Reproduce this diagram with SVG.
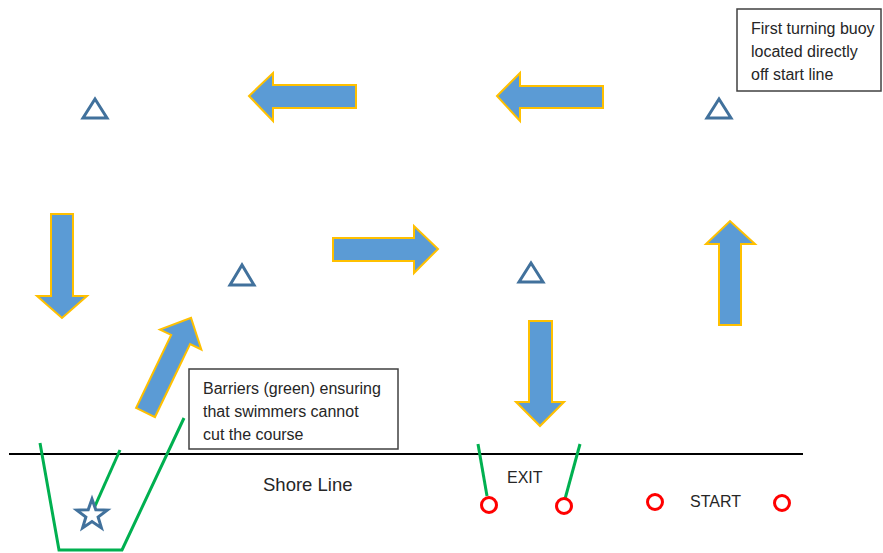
<svg xmlns="http://www.w3.org/2000/svg" width="883" height="553" viewBox="0 0 883 553">
<style>
.arrow{fill:#5b9bd5;stroke:#ffc000;stroke-width:2;stroke-linejoin:miter}
.buoy{fill:#fff;stroke:#41719c;stroke-width:3;stroke-linejoin:miter}
.barrier{fill:none;stroke:#00b050;stroke-width:3}
.mark{fill:#fff;stroke:#ff0000;stroke-width:3}
.box{fill:#fff;stroke:#404040;stroke-width:1.5}
.t{font-family:"Liberation Sans",Arial,sans-serif;font-size:16px;fill:#262626}
</style>
<rect width="883" height="553" fill="#fff"/>
<g id="shore">
<line x1="9" y1="454" x2="803" y2="454" stroke="#000" stroke-width="2"/>
<text class="t" x="263" y="491" style="font-size:18.5px">Shore Line</text>
</g>
<g id="connectors">
<polygon class="arrow" points="249,96 273,73 273,85 356,85 356,108 273,108 273,121"/>
<polygon class="arrow" points="497,96 520,73 520,86 603,86 603,108 520,108 520,121"/>
<polygon class="arrow" points="51,214 73,214 73,296 87,296 62,318 37,296 51,296"/>
<polygon class="arrow" points="333,238 414,238 414,226 438,249 414,273 414,261 333,261"/>
<polygon class="arrow" points="529,321 552,321 552,402 564,402 540,426 516,402 529,402"/>
<polygon class="arrow" points="719,325 741,325 741,244 755,244 730,221 706,244 719,244"/>
<polygon class="arrow" transform="translate(145.5,412.5) rotate(25.7)" points="-10.5,0 10.5,0 10.5,-81 23,-81 0,-105 -23,-81 -10.5,-81"/>
</g>
<g id="buoys">
<polygon class="buoy" points="83,118 107,118 95,99"/>
<polygon class="buoy" points="707,118 731,118 719,99"/>
<polygon class="buoy" points="230,285 254,285 242,265"/>
<polygon class="buoy" points="519,282 543,282 531,263"/>
</g>
<g id="barriers">
<polyline class="barrier" points="40,443 59,550 122,550 184,418"/>
<line class="barrier" x1="120" y1="450" x2="91" y2="515"/>
<line class="barrier" x1="478" y1="444" x2="487" y2="496"/>
<line class="barrier" x1="580" y1="444" x2="565" y2="499"/>
</g>
<g id="finish-star">
<polygon class="buoy" transform="translate(92,515)" points="0,-16 3.8,-5.2 15.2,-4.9 6.1,2 9.4,12.9 0,6.5 -9.4,12.9 -6.1,2 -15.2,-4.9 -3.8,-5.2"/>
</g>
<g id="exit">
<circle class="mark" cx="489" cy="505" r="7.5"/>
<circle class="mark" cx="564" cy="506" r="7.5"/>
<text class="t" x="507" y="483">EXIT</text>
</g>
<g id="start">
<circle class="mark" cx="655" cy="502" r="7.5"/>
<circle class="mark" cx="782" cy="503" r="7.5"/>
<text class="t" x="690" y="507">START</text>
</g>
<g id="note-buoy">
<rect class="box" x="737" y="9" width="144" height="82"/>
<text class="t" x="751" y="34">First turning buoy</text>
<text class="t" x="751" y="57">located directly</text>
<text class="t" x="751" y="80">off start line</text>
</g>
<g id="note-barriers">
<rect class="box" x="189" y="369" width="209" height="80"/>
<text class="t" x="203" y="394">Barriers (green) ensuring</text>
<text class="t" x="203" y="417">that swimmers cannot</text>
<text class="t" x="203" y="440">cut the course</text>
</g>
</svg>
